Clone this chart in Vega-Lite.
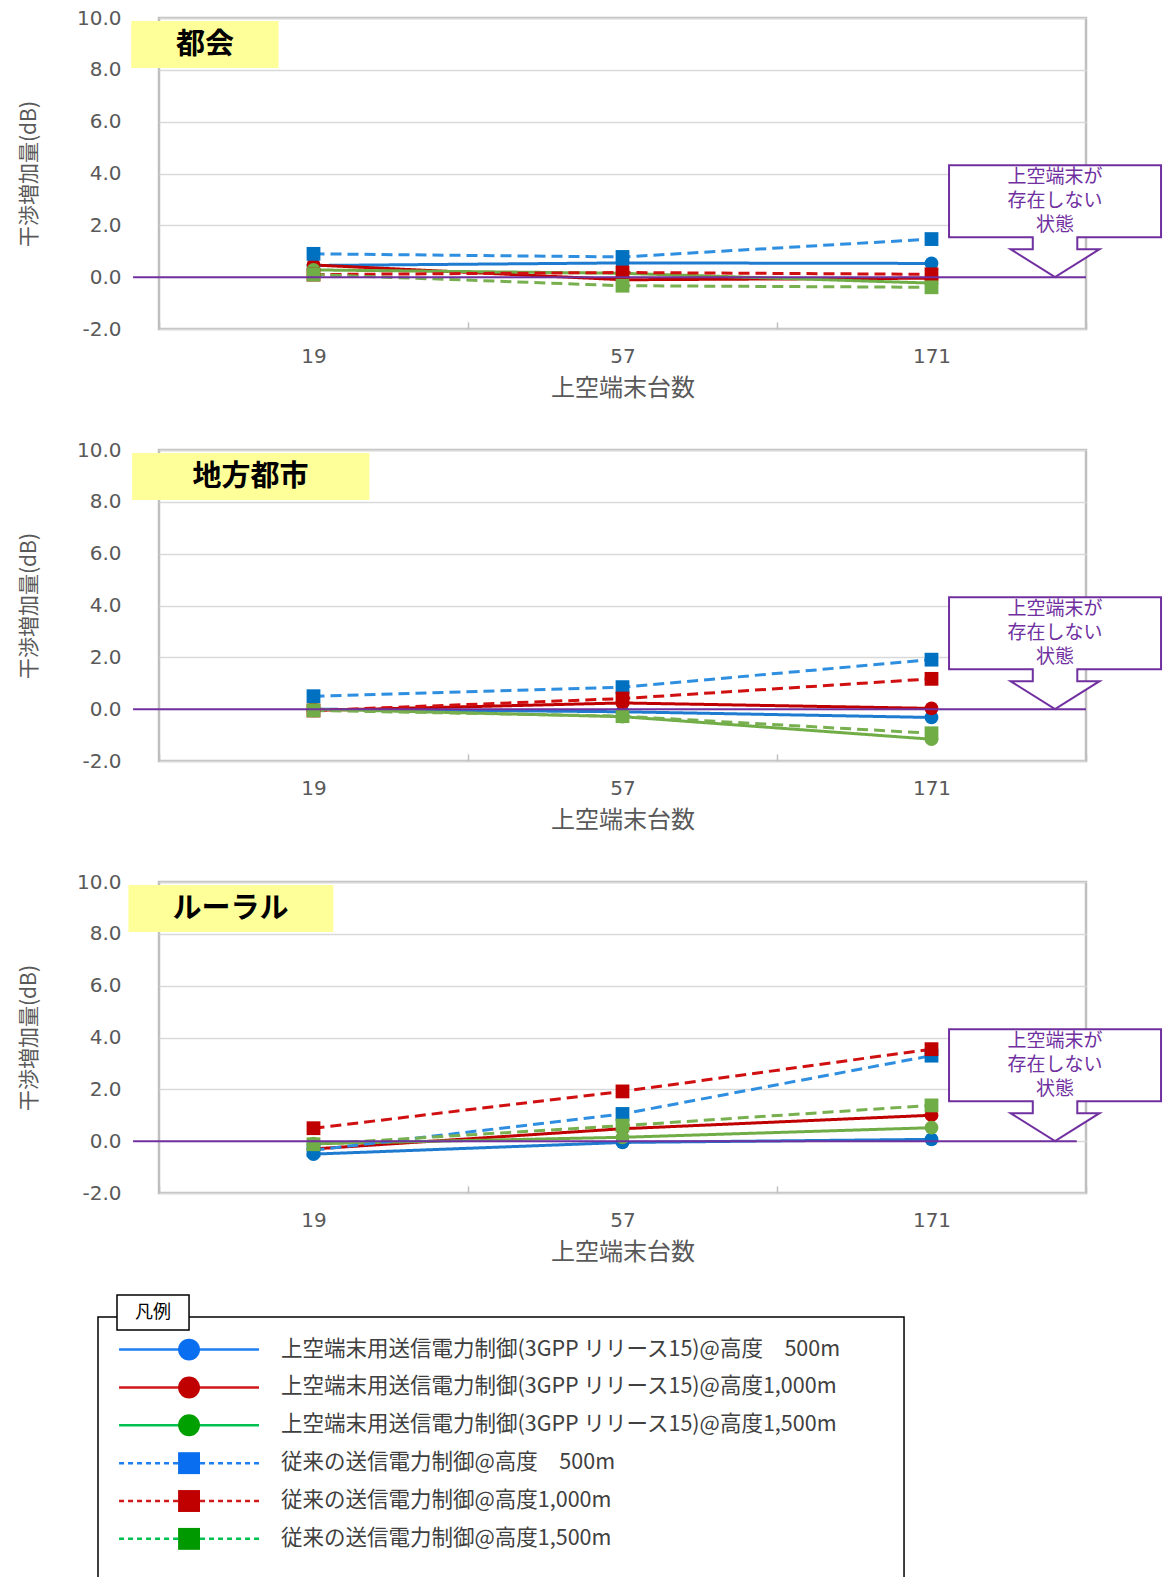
{
  "$schema": "https://vega.github.io/schema/vega-lite/v6.json",
  "padding": {"left": 17, "top": 6, "right": 5, "bottom": 0},
  "background": "white",
  "bounds": "flush",
  "spacing": 121,
  "config": {
    "font": "Noto Sans CJK JP",
    "view": {"stroke": "#bfbfbf", "strokeWidth": 2.5},
    "axisY": {"labelFont": "DejaVu Sans", "labelFontSize": 20, "labelColor": "#595959", "labelPadding": 38, "labelExpr": "replace(datum.label, '−', '-')", "ticks": false, "domain": false, "gridColor": "#d9d9d9", "gridWidth": 1.5, "titleFont": "Noto Sans CJK JP", "titleFontSize": 21, "titleColor": "#595959", "titleFontWeight": "normal", "titlePadding": 37},
    "axisX": {"labelFont": "DejaVu Sans", "labelFontSize": 20, "labelColor": "#595959", "labelAngle": 0, "domain": false, "grid": false, "tickBand": "extent", "tickColor": "#bfbfbf", "tickWidth": 1.5, "tickSize": -7, "labelPadding": 24, "titleFont": "Noto Sans CJK JP", "titleFontSize": 24, "titleColor": "#595959", "titleFontWeight": "normal", "titlePadding": 10}
  },
  "resolve": {"scale": {"stroke": "independent", "fill": "independent", "strokeDash": "independent", "shape": "independent"}},
  "datasets": {
    "main": [
      {"area": "都会", "series": "上空端末用送信電力制御(3GPP リリース15)@高度　500m", "n": 19, "v": 0.45},
      {"area": "都会", "series": "上空端末用送信電力制御(3GPP リリース15)@高度　500m", "n": 57, "v": 0.55},
      {"area": "都会", "series": "上空端末用送信電力制御(3GPP リリース15)@高度　500m", "n": 171, "v": 0.53},
      {"area": "都会", "series": "上空端末用送信電力制御(3GPP リリース15)@高度1,000m", "n": 19, "v": 0.47},
      {"area": "都会", "series": "上空端末用送信電力制御(3GPP リリース15)@高度1,000m", "n": 57, "v": -0.1},
      {"area": "都会", "series": "上空端末用送信電力制御(3GPP リリース15)@高度1,000m", "n": 171, "v": -0.04},
      {"area": "都会", "series": "上空端末用送信電力制御(3GPP リリース15)@高度1,500m", "n": 19, "v": 0.28},
      {"area": "都会", "series": "上空端末用送信電力制御(3GPP リリース15)@高度1,500m", "n": 57, "v": 0.15},
      {"area": "都会", "series": "上空端末用送信電力制御(3GPP リリース15)@高度1,500m", "n": 171, "v": -0.23},
      {"area": "都会", "series": "従来の送信電力制御@高度　500m", "n": 19, "v": 0.9},
      {"area": "都会", "series": "従来の送信電力制御@高度　500m", "n": 57, "v": 0.78},
      {"area": "都会", "series": "従来の送信電力制御@高度　500m", "n": 171, "v": 1.47},
      {"area": "都会", "series": "従来の送信電力制御@高度1,000m", "n": 19, "v": 0.1},
      {"area": "都会", "series": "従来の送信電力制御@高度1,000m", "n": 57, "v": 0.18},
      {"area": "都会", "series": "従来の送信電力制御@高度1,000m", "n": 171, "v": 0.11},
      {"area": "都会", "series": "従来の送信電力制御@高度1,500m", "n": 19, "v": 0.1},
      {"area": "都会", "series": "従来の送信電力制御@高度1,500m", "n": 57, "v": -0.33},
      {"area": "都会", "series": "従来の送信電力制御@高度1,500m", "n": 171, "v": -0.39},
      {"area": "地方都市", "series": "上空端末用送信電力制御(3GPP リリース15)@高度　500m", "n": 19, "v": 0.0},
      {"area": "地方都市", "series": "上空端末用送信電力制御(3GPP リリース15)@高度　500m", "n": 57, "v": -0.1},
      {"area": "地方都市", "series": "上空端末用送信電力制御(3GPP リリース15)@高度　500m", "n": 171, "v": -0.32},
      {"area": "地方都市", "series": "上空端末用送信電力制御(3GPP リリース15)@高度1,000m", "n": 19, "v": -0.05},
      {"area": "地方都市", "series": "上空端末用送信電力制御(3GPP リリース15)@高度1,000m", "n": 57, "v": 0.24},
      {"area": "地方都市", "series": "上空端末用送信電力制御(3GPP リリース15)@高度1,000m", "n": 171, "v": 0.03},
      {"area": "地方都市", "series": "上空端末用送信電力制御(3GPP リリース15)@高度1,500m", "n": 19, "v": 0.0},
      {"area": "地方都市", "series": "上空端末用送信電力制御(3GPP リリース15)@高度1,500m", "n": 57, "v": -0.29},
      {"area": "地方都市", "series": "上空端末用送信電力制御(3GPP リリース15)@高度1,500m", "n": 171, "v": -1.16},
      {"area": "地方都市", "series": "従来の送信電力制御@高度　500m", "n": 19, "v": 0.5},
      {"area": "地方都市", "series": "従来の送信電力制御@高度　500m", "n": 57, "v": 0.85},
      {"area": "地方都市", "series": "従来の送信電力制御@高度　500m", "n": 171, "v": 1.91},
      {"area": "地方都市", "series": "従来の送信電力制御@高度1,000m", "n": 19, "v": -0.05},
      {"area": "地方都市", "series": "従来の送信電力制御@高度1,000m", "n": 57, "v": 0.41},
      {"area": "地方都市", "series": "従来の送信電力制御@高度1,000m", "n": 171, "v": 1.17},
      {"area": "地方都市", "series": "従来の送信電力制御@高度1,500m", "n": 19, "v": -0.05},
      {"area": "地方都市", "series": "従来の送信電力制御@高度1,500m", "n": 57, "v": -0.27},
      {"area": "地方都市", "series": "従来の送信電力制御@高度1,500m", "n": 171, "v": -0.93},
      {"area": "ルーラル", "series": "上空端末用送信電力制御(3GPP リリース15)@高度　500m", "n": 19, "v": -0.5},
      {"area": "ルーラル", "series": "上空端末用送信電力制御(3GPP リリース15)@高度　500m", "n": 57, "v": -0.05},
      {"area": "ルーラル", "series": "上空端末用送信電力制御(3GPP リリース15)@高度　500m", "n": 171, "v": 0.07},
      {"area": "ルーラル", "series": "上空端末用送信電力制御(3GPP リリース15)@高度1,000m", "n": 19, "v": -0.3},
      {"area": "ルーラル", "series": "上空端末用送信電力制御(3GPP リリース15)@高度1,000m", "n": 57, "v": 0.48},
      {"area": "ルーラル", "series": "上空端末用送信電力制御(3GPP リリース15)@高度1,000m", "n": 171, "v": 1.0},
      {"area": "ルーラル", "series": "上空端末用送信電力制御(3GPP リリース15)@高度1,500m", "n": 19, "v": -0.1},
      {"area": "ルーラル", "series": "上空端末用送信電力制御(3GPP リリース15)@高度1,500m", "n": 57, "v": 0.15},
      {"area": "ルーラル", "series": "上空端末用送信電力制御(3GPP リリース15)@高度1,500m", "n": 171, "v": 0.52},
      {"area": "ルーラル", "series": "従来の送信電力制御@高度　500m", "n": 19, "v": -0.35},
      {"area": "ルーラル", "series": "従来の送信電力制御@高度　500m", "n": 57, "v": 1.05},
      {"area": "ルーラル", "series": "従来の送信電力制御@高度　500m", "n": 171, "v": 3.3},
      {"area": "ルーラル", "series": "従来の送信電力制御@高度1,000m", "n": 19, "v": 0.5},
      {"area": "ルーラル", "series": "従来の送信電力制御@高度1,000m", "n": 57, "v": 1.92},
      {"area": "ルーラル", "series": "従来の送信電力制御@高度1,000m", "n": 171, "v": 3.55},
      {"area": "ルーラル", "series": "従来の送信電力制御@高度1,500m", "n": 19, "v": -0.12},
      {"area": "ルーラル", "series": "従来の送信電力制御@高度1,500m", "n": 57, "v": 0.6},
      {"area": "ルーラル", "series": "従来の送信電力制御@高度1,500m", "n": 171, "v": 1.38}
    ]
  },
  "vconcat": [
    {
      "width": 927, "height": 311,
      "layer": [
        {
          "data": {"name": "main"},
          "transform": [{"filter": "datum.area === '都会'"}],
          "encoding": {
            "x": {"field": "n", "type": "ordinal", "scale": {"type": "band", "domain": [19, 57, 171], "paddingInner": 0, "paddingOuter": 0}, "axis": {"title": "上空端末台数"}},
            "y": {"field": "v", "type": "quantitative", "scale": {"domain": [-2, 10], "nice": false}, "axis": {"title": "干渉増加量(dB)", "values": [-2, 0, 2, 4, 6, 8, 10], "format": ".1f"}}
          },
          "layer": [
            {"mark": {"type": "line", "strokeWidth": 3}, "encoding": {
              "stroke": {"field": "series", "type": "nominal", "legend": null, "scale": {"domain": ["上空端末用送信電力制御(3GPP リリース15)@高度　500m", "上空端末用送信電力制御(3GPP リリース15)@高度1,000m", "上空端末用送信電力制御(3GPP リリース15)@高度1,500m", "従来の送信電力制御@高度　500m", "従来の送信電力制御@高度1,000m", "従来の送信電力制御@高度1,500m"], "range": ["#1e7bd0", "#c00000", "#70ad47", "#2e8ee0", "#d01010", "#78b050"]}},
              "strokeDash": {"field": "series", "type": "nominal", "legend": null, "scale": {"domain": ["上空端末用送信電力制御(3GPP リリース15)@高度　500m", "上空端末用送信電力制御(3GPP リリース15)@高度1,000m", "上空端末用送信電力制御(3GPP リリース15)@高度1,500m", "従来の送信電力制御@高度　500m", "従来の送信電力制御@高度1,000m", "従来の送信電力制御@高度1,500m"], "range": [[1, 0], [1, 0], [1, 0], [11, 6], [11, 6], [11, 6]]}}
            }},
            {"mark": {"type": "point", "filled": true, "size": 190, "opacity": 1}, "encoding": {
              "fill": {"field": "series", "type": "nominal", "legend": null, "scale": {"domain": ["上空端末用送信電力制御(3GPP リリース15)@高度　500m", "上空端末用送信電力制御(3GPP リリース15)@高度1,000m", "上空端末用送信電力制御(3GPP リリース15)@高度1,500m", "従来の送信電力制御@高度　500m", "従来の送信電力制御@高度1,000m", "従来の送信電力制御@高度1,500m"], "range": ["#0070c0", "#c00000", "#70ad47", "#0070c0", "#c00000", "#70ad47"]}},
              "shape": {"field": "series", "type": "nominal", "legend": null, "scale": {"domain": ["上空端末用送信電力制御(3GPP リリース15)@高度　500m", "上空端末用送信電力制御(3GPP リリース15)@高度1,000m", "上空端末用送信電力制御(3GPP リリース15)@高度1,500m", "従来の送信電力制御@高度　500m", "従来の送信電力制御@高度1,000m", "従来の送信電力制御@高度1,500m"], "range": ["circle", "circle", "circle", "square", "square", "square"]}}
            }}
          ]
        },
        {
          "data": {"values": [{}]},
          "layer": [
            {"mark": {"type": "rule", "color": "#7030A0", "strokeWidth": 2}, "encoding": {"x": {"datum": -0.028, "type": "quantitative", "scale": {"domain": [0, 1]}, "axis": null}, "x2": {"datum": 1}, "y": {"datum": 0, "type": "quantitative"}}},
            {"mark": {"type": "rect", "fill": "#FFFF99"}, "encoding": {"x": {"datum": -0.03, "type": "quantitative", "scale": {"domain": [0, 1]}, "axis": null}, "x2": {"datum": 0.129}, "y": {"datum": 9.88, "type": "quantitative"}, "y2": {"datum": 8.07}}},
            {"mark": {"type": "text", "text": "都会", "fontSize": 29, "fontWeight": "bold", "color": "#000000", "align": "center", "baseline": "middle"}, "encoding": {"x": {"datum": 0.0496, "type": "quantitative", "scale": {"domain": [0, 1]}, "axis": null}, "y": {"datum": 8.975, "type": "quantitative"}}},
            {"mark": {"type": "point", "shape": "M-1,-0.528L1,-0.528L1,0.151L0.21,0.151L0.21,0.264L0.42,0.264L0,0.528L-0.42,0.264L-0.21,0.264L-0.21,0.151L-1,0.151Z", "size": 44944, "filled": true, "fill": "white", "stroke": "#7030A0", "strokeWidth": 2, "opacity": 1}, "encoding": {"x": {"datum": 0.9666, "type": "quantitative", "scale": {"domain": [0, 1]}, "axis": null}, "y": {"datum": 2.16, "type": "quantitative"}}},
            {"mark": {"type": "text", "text": ["上空端末が", "存在しない", "状態"], "fontSize": 19, "lineHeight": 24, "color": "#7030A0", "align": "center", "baseline": "middle"}, "encoding": {"x": {"datum": 0.9666, "type": "quantitative", "scale": {"domain": [0, 1]}, "axis": null}, "y": {"datum": 3.86, "type": "quantitative"}}}
          ]
        }
      ],
      "resolve": {"scale": {"x": "independent"}}
    },
    {
      "width": 927, "height": 311,
      "layer": [
        {
          "data": {"name": "main"},
          "transform": [{"filter": "datum.area === '地方都市'"}],
          "encoding": {
            "x": {"field": "n", "type": "ordinal", "scale": {"type": "band", "domain": [19, 57, 171], "paddingInner": 0, "paddingOuter": 0}, "axis": {"title": "上空端末台数"}},
            "y": {"field": "v", "type": "quantitative", "scale": {"domain": [-2, 10], "nice": false}, "axis": {"title": "干渉増加量(dB)", "values": [-2, 0, 2, 4, 6, 8, 10], "format": ".1f"}}
          },
          "layer": [
            {"mark": {"type": "line", "strokeWidth": 3}, "encoding": {
              "stroke": {"field": "series", "type": "nominal", "legend": null, "scale": {"domain": ["上空端末用送信電力制御(3GPP リリース15)@高度　500m", "上空端末用送信電力制御(3GPP リリース15)@高度1,000m", "上空端末用送信電力制御(3GPP リリース15)@高度1,500m", "従来の送信電力制御@高度　500m", "従来の送信電力制御@高度1,000m", "従来の送信電力制御@高度1,500m"], "range": ["#1e7bd0", "#c00000", "#70ad47", "#2e8ee0", "#d01010", "#78b050"]}},
              "strokeDash": {"field": "series", "type": "nominal", "legend": null, "scale": {"domain": ["上空端末用送信電力制御(3GPP リリース15)@高度　500m", "上空端末用送信電力制御(3GPP リリース15)@高度1,000m", "上空端末用送信電力制御(3GPP リリース15)@高度1,500m", "従来の送信電力制御@高度　500m", "従来の送信電力制御@高度1,000m", "従来の送信電力制御@高度1,500m"], "range": [[1, 0], [1, 0], [1, 0], [11, 6], [11, 6], [11, 6]]}}
            }},
            {"mark": {"type": "point", "filled": true, "size": 190, "opacity": 1}, "encoding": {
              "fill": {"field": "series", "type": "nominal", "legend": null, "scale": {"domain": ["上空端末用送信電力制御(3GPP リリース15)@高度　500m", "上空端末用送信電力制御(3GPP リリース15)@高度1,000m", "上空端末用送信電力制御(3GPP リリース15)@高度1,500m", "従来の送信電力制御@高度　500m", "従来の送信電力制御@高度1,000m", "従来の送信電力制御@高度1,500m"], "range": ["#0070c0", "#c00000", "#70ad47", "#0070c0", "#c00000", "#70ad47"]}},
              "shape": {"field": "series", "type": "nominal", "legend": null, "scale": {"domain": ["上空端末用送信電力制御(3GPP リリース15)@高度　500m", "上空端末用送信電力制御(3GPP リリース15)@高度1,000m", "上空端末用送信電力制御(3GPP リリース15)@高度1,500m", "従来の送信電力制御@高度　500m", "従来の送信電力制御@高度1,000m", "従来の送信電力制御@高度1,500m"], "range": ["circle", "circle", "circle", "square", "square", "square"]}}
            }}
          ]
        },
        {
          "data": {"values": [{}]},
          "layer": [
            {"mark": {"type": "rule", "color": "#7030A0", "strokeWidth": 2}, "encoding": {"x": {"datum": -0.028, "type": "quantitative", "scale": {"domain": [0, 1]}, "axis": null}, "x2": {"datum": 1}, "y": {"datum": 0, "type": "quantitative"}}},
            {"mark": {"type": "rect", "fill": "#FFFF99"}, "encoding": {"x": {"datum": -0.029, "type": "quantitative", "scale": {"domain": [0, 1]}, "axis": null}, "x2": {"datum": 0.227}, "y": {"datum": 9.88, "type": "quantitative"}, "y2": {"datum": 8.07}}},
            {"mark": {"type": "text", "text": "地方都市", "fontSize": 29, "fontWeight": "bold", "color": "#000000", "align": "center", "baseline": "middle"}, "encoding": {"x": {"datum": 0.0987, "type": "quantitative", "scale": {"domain": [0, 1]}, "axis": null}, "y": {"datum": 8.975, "type": "quantitative"}}},
            {"mark": {"type": "point", "shape": "M-1,-0.528L1,-0.528L1,0.151L0.21,0.151L0.21,0.264L0.42,0.264L0,0.528L-0.42,0.264L-0.21,0.264L-0.21,0.151L-1,0.151Z", "size": 44944, "filled": true, "fill": "white", "stroke": "#7030A0", "strokeWidth": 2, "opacity": 1}, "encoding": {"x": {"datum": 0.9666, "type": "quantitative", "scale": {"domain": [0, 1]}, "axis": null}, "y": {"datum": 2.16, "type": "quantitative"}}},
            {"mark": {"type": "text", "text": ["上空端末が", "存在しない", "状態"], "fontSize": 19, "lineHeight": 24, "color": "#7030A0", "align": "center", "baseline": "middle"}, "encoding": {"x": {"datum": 0.9666, "type": "quantitative", "scale": {"domain": [0, 1]}, "axis": null}, "y": {"datum": 3.86, "type": "quantitative"}}}
          ]
        }
      ],
      "resolve": {"scale": {"x": "independent"}}
    },
    {
      "width": 927, "height": 311,
      "layer": [
        {
          "data": {"name": "main"},
          "transform": [{"filter": "datum.area === 'ルーラル'"}],
          "encoding": {
            "x": {"field": "n", "type": "ordinal", "scale": {"type": "band", "domain": [19, 57, 171], "paddingInner": 0, "paddingOuter": 0}, "axis": {"title": "上空端末台数"}},
            "y": {"field": "v", "type": "quantitative", "scale": {"domain": [-2, 10], "nice": false}, "axis": {"title": "干渉増加量(dB)", "values": [-2, 0, 2, 4, 6, 8, 10], "format": ".1f"}}
          },
          "layer": [
            {"mark": {"type": "line", "strokeWidth": 3}, "encoding": {
              "stroke": {"field": "series", "type": "nominal", "legend": null, "scale": {"domain": ["上空端末用送信電力制御(3GPP リリース15)@高度　500m", "上空端末用送信電力制御(3GPP リリース15)@高度1,000m", "上空端末用送信電力制御(3GPP リリース15)@高度1,500m", "従来の送信電力制御@高度　500m", "従来の送信電力制御@高度1,000m", "従来の送信電力制御@高度1,500m"], "range": ["#1e7bd0", "#c00000", "#70ad47", "#2e8ee0", "#d01010", "#78b050"]}},
              "strokeDash": {"field": "series", "type": "nominal", "legend": null, "scale": {"domain": ["上空端末用送信電力制御(3GPP リリース15)@高度　500m", "上空端末用送信電力制御(3GPP リリース15)@高度1,000m", "上空端末用送信電力制御(3GPP リリース15)@高度1,500m", "従来の送信電力制御@高度　500m", "従来の送信電力制御@高度1,000m", "従来の送信電力制御@高度1,500m"], "range": [[1, 0], [1, 0], [1, 0], [11, 6], [11, 6], [11, 6]]}}
            }},
            {"mark": {"type": "point", "filled": true, "size": 190, "opacity": 1}, "encoding": {
              "fill": {"field": "series", "type": "nominal", "legend": null, "scale": {"domain": ["上空端末用送信電力制御(3GPP リリース15)@高度　500m", "上空端末用送信電力制御(3GPP リリース15)@高度1,000m", "上空端末用送信電力制御(3GPP リリース15)@高度1,500m", "従来の送信電力制御@高度　500m", "従来の送信電力制御@高度1,000m", "従来の送信電力制御@高度1,500m"], "range": ["#0070c0", "#c00000", "#70ad47", "#0070c0", "#c00000", "#70ad47"]}},
              "shape": {"field": "series", "type": "nominal", "legend": null, "scale": {"domain": ["上空端末用送信電力制御(3GPP リリース15)@高度　500m", "上空端末用送信電力制御(3GPP リリース15)@高度1,000m", "上空端末用送信電力制御(3GPP リリース15)@高度1,500m", "従来の送信電力制御@高度　500m", "従来の送信電力制御@高度1,000m", "従来の送信電力制御@高度1,500m"], "range": ["circle", "circle", "circle", "square", "square", "square"]}}
            }}
          ]
        },
        {
          "data": {"values": [{}]},
          "layer": [
            {"mark": {"type": "rule", "color": "#7030A0", "strokeWidth": 2}, "encoding": {"x": {"datum": -0.028, "type": "quantitative", "scale": {"domain": [0, 1]}, "axis": null}, "x2": {"datum": 0.99}, "y": {"datum": 0, "type": "quantitative"}}},
            {"mark": {"type": "rect", "fill": "#FFFF99"}, "encoding": {"x": {"datum": -0.033, "type": "quantitative", "scale": {"domain": [0, 1]}, "axis": null}, "x2": {"datum": 0.188}, "y": {"datum": 9.88, "type": "quantitative"}, "y2": {"datum": 8.07}}},
            {"mark": {"type": "text", "text": "ルーラル", "fontSize": 29, "fontWeight": "bold", "color": "#000000", "align": "center", "baseline": "middle"}, "encoding": {"x": {"datum": 0.0771, "type": "quantitative", "scale": {"domain": [0, 1]}, "axis": null}, "y": {"datum": 8.975, "type": "quantitative"}}},
            {"mark": {"type": "point", "shape": "M-1,-0.528L1,-0.528L1,0.151L0.21,0.151L0.21,0.264L0.42,0.264L0,0.528L-0.42,0.264L-0.21,0.264L-0.21,0.151L-1,0.151Z", "size": 44944, "filled": true, "fill": "white", "stroke": "#7030A0", "strokeWidth": 2, "opacity": 1}, "encoding": {"x": {"datum": 0.9666, "type": "quantitative", "scale": {"domain": [0, 1]}, "axis": null}, "y": {"datum": 2.16, "type": "quantitative"}}},
            {"mark": {"type": "text", "text": ["上空端末が", "存在しない", "状態"], "fontSize": 19, "lineHeight": 24, "color": "#7030A0", "align": "center", "baseline": "middle"}, "encoding": {"x": {"datum": 0.9666, "type": "quantitative", "scale": {"domain": [0, 1]}, "axis": null}, "y": {"datum": 3.86, "type": "quantitative"}}}
          ]
        }
      ],
      "resolve": {"scale": {"x": "independent"}}
    },
    {
      "width": 927, "height": 265,
      "view": {"stroke": null},
      "layer": [
        {
          "data": {"values": [{}]},
          "layer": [
            {"mark": {"type": "rect", "fill": "white", "fillOpacity": 0, "stroke": "#000000", "strokeWidth": 1.5}, "encoding": {"x": {"datum": -0.0658, "type": "quantitative", "scale": {"domain": [0, 1]}, "axis": null}, "x2": {"datum": 0.8037}, "y": {"datum": 0.0113, "type": "quantitative", "scale": {"domain": [0, 1], "reverse": true}, "axis": null}, "y2": {"datum": 1.02}}},
            {"mark": {"type": "rect", "fill": "white", "stroke": "#000000", "strokeWidth": 1.5}, "encoding": {"x": {"datum": -0.0453, "type": "quantitative", "scale": {"domain": [0, 1]}, "axis": null}, "x2": {"datum": 0.0324}, "y": {"datum": -0.0717, "type": "quantitative", "scale": {"domain": [0, 1], "reverse": true}, "axis": null}, "y2": {"datum": 0.0604}}},
            {"mark": {"type": "text", "text": "凡例", "fontSize": 18, "color": "#000000", "align": "center", "baseline": "middle"}, "encoding": {"x": {"datum": -0.0065, "type": "quantitative", "scale": {"domain": [0, 1]}, "axis": null}, "y": {"datum": -0.004, "type": "quantitative", "scale": {"domain": [0, 1], "reverse": true}, "axis": null}}}
          ]
        },
        {
          "data": {"name": "main"},
          "transform": [{"filter": "datum.area === '都会' && datum.n === 19"}],
          "encoding": {
            "y": {"field": "series", "type": "nominal", "scale": {"type": "point", "domain": ["上空端末用送信電力制御(3GPP リリース15)@高度　500m", "上空端末用送信電力制御(3GPP リリース15)@高度1,000m", "上空端末用送信電力制御(3GPP リリース15)@高度1,500m", "従来の送信電力制御@高度　500m", "従来の送信電力制御@高度1,000m", "従来の送信電力制御@高度1,500m"], "padding": 1.14, "align": 0.47}, "axis": null}
          },
          "layer": [
            {"mark": {"type": "rule", "strokeWidth": 2.5}, "encoding": {
              "x": {"datum": -0.0431, "type": "quantitative", "scale": {"domain": [0, 1]}, "axis": null}, "x2": {"datum": 0.1079},
              "stroke": {"field": "series", "type": "nominal", "legend": null, "scale": {"domain": ["上空端末用送信電力制御(3GPP リリース15)@高度　500m", "上空端末用送信電力制御(3GPP リリース15)@高度1,000m", "上空端末用送信電力制御(3GPP リリース15)@高度1,500m", "従来の送信電力制御@高度　500m", "従来の送信電力制御@高度1,000m", "従来の送信電力制御@高度1,500m"], "range": ["#1e7ff0", "#d01818", "#00c050", "#1e7ff0", "#d01818", "#00c050"]}},
              "strokeDash": {"field": "series", "type": "nominal", "legend": null, "scale": {"domain": ["上空端末用送信電力制御(3GPP リリース15)@高度　500m", "上空端末用送信電力制御(3GPP リリース15)@高度1,000m", "上空端末用送信電力制御(3GPP リリース15)@高度1,500m", "従来の送信電力制御@高度　500m", "従来の送信電力制御@高度1,000m", "従来の送信電力制御@高度1,500m"], "range": [[1, 0], [1, 0], [1, 0], [5, 4], [5, 4], [5, 4]]}}
            }},
            {"mark": {"type": "point", "filled": true, "size": 480, "opacity": 1}, "encoding": {
              "x": {"datum": 0.0324, "type": "quantitative", "scale": {"domain": [0, 1]}, "axis": null},
              "fill": {"field": "series", "type": "nominal", "legend": null, "scale": {"domain": ["上空端末用送信電力制御(3GPP リリース15)@高度　500m", "上空端末用送信電力制御(3GPP リリース15)@高度1,000m", "上空端末用送信電力制御(3GPP リリース15)@高度1,500m", "従来の送信電力制御@高度　500m", "従来の送信電力制御@高度1,000m", "従来の送信電力制御@高度1,500m"], "range": ["#0a6ef0", "#c00000", "#00a000", "#0a6ef0", "#c00000", "#009a00"]}},
              "shape": {"field": "series", "type": "nominal", "legend": null, "scale": {"domain": ["上空端末用送信電力制御(3GPP リリース15)@高度　500m", "上空端末用送信電力制御(3GPP リリース15)@高度1,000m", "上空端末用送信電力制御(3GPP リリース15)@高度1,500m", "従来の送信電力制御@高度　500m", "従来の送信電力制御@高度1,000m", "従来の送信電力制御@高度1,500m"], "range": ["circle", "circle", "circle", "square", "square", "square"]}}
            }},
            {"mark": {"type": "text", "align": "left", "baseline": "middle", "fontSize": 21.5, "color": "#404040"}, "encoding": {
              "x": {"datum": 0.1316, "type": "quantitative", "scale": {"domain": [0, 1]}, "axis": null},
              "text": {"field": "series", "type": "nominal"}
            }}
          ]
        }
      ],
      "resolve": {"scale": {"y": "independent"}}
    }
  ]
}
